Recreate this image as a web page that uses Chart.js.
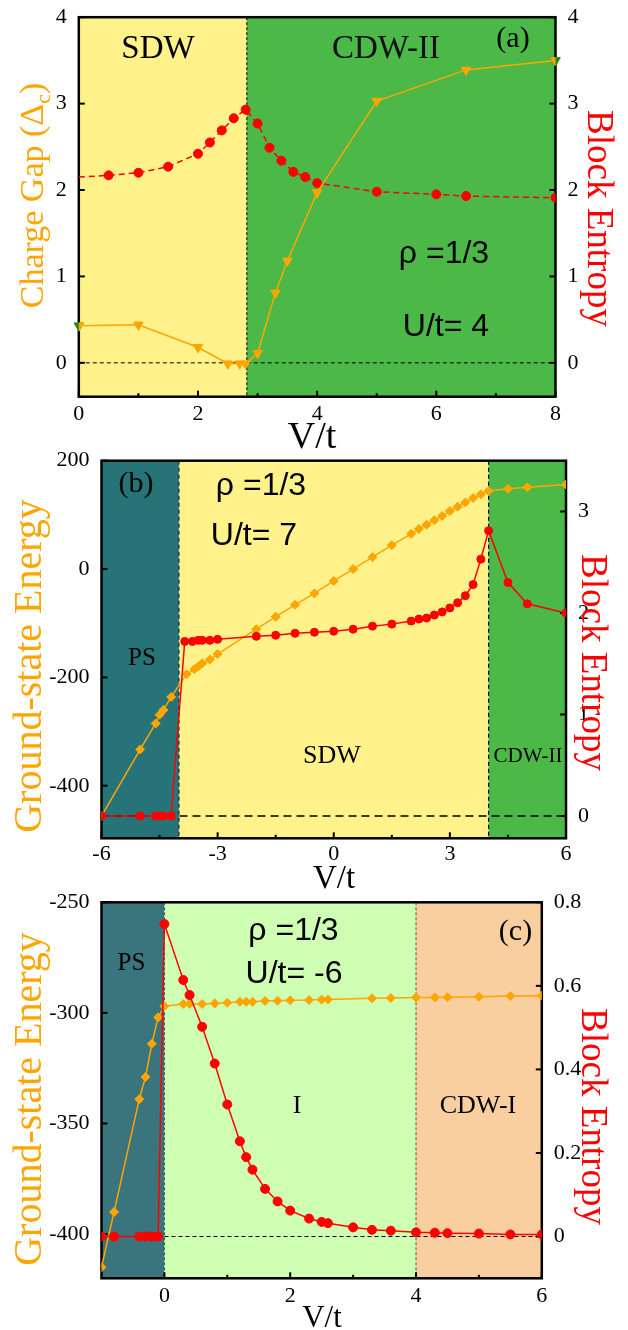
<!DOCTYPE html>
<html>
<head>
<meta charset="utf-8">
<script src="https://cdn.jsdelivr.net/npm/chart.js@4.4.0/dist/chart.umd.min.js"></script>
<style>
  body { margin: 0; background: #fff; }
  #wrap { position: relative; width: 628px; height: 1330px; overflow: hidden; }
  canvas { position: absolute; left: 0; }
</style>
</head>
<body>
<div id="wrap">
  <canvas id="chart-a" width="628" height="455" style="top:0px"></canvas>
  <canvas id="chart-b" width="628" height="465" style="top:430px"></canvas>
  <canvas id="chart-c" width="628" height="450" style="top:880px"></canvas>
</div>
<script>
// ---------- panel (a): charge gap + block entropy, U/t = 4 ----------
const a_gapV  = [0, 1, 2, 2.5, 2.7, 2.8, 3, 3.3, 3.5, 4, 5, 6.5, 8];
const a_gap   = [0.43, 0.44, 0.18, -0.01, -0.01, -0.01, 0.11, 0.81, 1.18, 1.97, 3.03, 3.39, 3.50];
const a_edgeV = [0, 8];
const a_edge  = [0.43, 3.50];
const a_entV  = [0, 0.5, 1, 1.5, 2, 2.2, 2.4, 2.6, 2.8, 3, 3.2, 3.4, 3.6, 3.8, 4, 5, 6, 6.5, 8];
const a_ent   = [2.15, 2.17, 2.20, 2.27, 2.42, 2.55, 2.69, 2.83, 2.93, 2.77, 2.49, 2.34, 2.21, 2.15, 2.08, 1.98, 1.95, 1.93, 1.91];
const a_xTicks  = [0, 2, 4, 6, 8];
const a_xLabels = ['0', '2', '4', '6', '8'];
const a_xMinor  = [1, 3, 5, 7];
const a_yTicks  = [0, 1, 2, 3, 4];
const a_yLabels = ['0', '1', '2', '3', '4'];
const a_y2Ticks  = [0, 1, 2, 3, 4];
const a_y2Labels = ['0', '1', '2', '3', '4'];
const a_phaseEdges = [0, 2.82, 8];

// ---------- panel (b): ground-state energy + block entropy, U/t = 7 ----------
const b_enV = [-6, -5, -4.6, -4.5, -4.4, -4.2, -3.8, -3.6, -3.5, -3.4, -3.2, -3.0, -2, -1.5, -1, -0.5, 0, 0.5, 1, 1.5, 2, 2.2, 2.4, 2.6, 2.8, 3.0, 3.2, 3.4, 3.6, 3.8, 4, 4.5, 5, 6];
const b_en  = [-456, -333, -285, -269, -260, -236, -194, -185, -180, -174, -167, -157, -111, -88, -66, -45, -22, 0, 22, 44, 65, 74, 82, 90, 98, 107, 115, 123, 131, 138, 144, 148, 151, 156];
const b_entV = [-6, -5, -4.6, -4.5, -4.4, -4.2, -3.85, -3.65, -3.5, -3.4, -3.2, -3.0, -2, -1.5, -1, -0.5, 0, 0.5, 1, 1.5, 2, 2.2, 2.4, 2.6, 2.8, 3.0, 3.2, 3.4, 3.6, 3.8, 4.0, 4.5, 5, 6];
const b_ent  = [0, 0, 0, 0, 0, 0, 1.72, 1.72, 1.73, 1.73, 1.73, 1.74, 1.77, 1.78, 1.80, 1.81, 1.82, 1.84, 1.87, 1.89, 1.92, 1.94, 1.95, 1.98, 2.01, 2.05, 2.10, 2.17, 2.28, 2.53, 2.81, 2.30, 2.09, 2.00];
const b_xTicks  = [-6, -3, 0, 3, 6];
const b_xLabels = ['-6', '-3', '0', '3', '6'];
const b_xMinor  = [-4.5, -1.5, 1.5, 4.5];
const b_yTicks  = [-400, -200, 0, 200];
const b_yLabels = ['-400', '-200', '0', '200'];
const b_y2Ticks  = [0, 1, 2, 3];
const b_y2Labels = ['0', '1', '2', '3'];
const b_phaseEdges = [-6, -4, 4, 6];

// ---------- panel (c): ground-state energy + block entropy, U/t = -6 ----------
const c_enV = [-1, -0.8, -0.4, -0.3, -0.2, -0.1, 0, 0.3, 0.4, 0.6, 0.8, 1, 1.2, 1.3, 1.4, 1.6, 1.8, 2, 2.3, 2.5, 2.6, 3.3, 3.6, 4, 4.3, 4.5, 5, 5.5, 6];
const c_en  = [-415, -390, -339, -329, -314, -302, -297, -296, -296, -296, -295.7, -295.4, -295, -295, -295, -294.6, -294.5, -294.3, -294.2, -294, -294, -293.4, -293.3, -293, -293, -292.9, -292.7, -292.4, -292.2];
const c_entV = [-1, -0.8, -0.4, -0.3, -0.2, -0.1, 0, 0.3, 0.4, 0.6, 0.8, 1, 1.2, 1.3, 1.4, 1.6, 1.8, 2, 2.3, 2.5, 2.6, 3, 3.3, 3.6, 4, 4.3, 4.5, 5, 5.5, 6];
const c_ent  = [0, 0, 0, 0, 0, 0, 0.748, 0.614, 0.578, 0.502, 0.414, 0.316, 0.228, 0.190, 0.160, 0.114, 0.084, 0.062, 0.043, 0.035, 0.032, 0.022, 0.016, 0.014, 0.010, 0.009, 0.008, 0.007, 0.005, 0.005];
const c_xTicks  = [0, 2, 4, 6];
const c_xLabels = ['0', '2', '4', '6'];
const c_xMinor  = [1, 3, 5];
const c_yTicks  = [-400, -350, -300, -250];
const c_yLabels = ['-400', '-350', '-300', '-250'];
const c_y2Ticks  = [0, 0.2, 0.4, 0.6, 0.8];
const c_y2Labels = ['0', '0.2', '0.4', '0.6', '0.8'];
const c_phaseEdges = [-1, 0, 4, 6];

const SERIF = '"Liberation Serif", "Times New Roman", serif';
const SANS = '"Liberation Sans", Arial, sans-serif';
const ORANGE = '#ffa500';
const RED = '#ff0000';

function pts(xs, ys) {
    return xs.map((x, i) => ({ x: x, y: ys[i] }));
}

// draw a (possibly rotated) run of text pieces centred on x
function drawParts(ctx, parts, x, y, rot, color) {
    ctx.save();
    ctx.translate(x, y);
    ctx.rotate(rot || 0);
    ctx.fillStyle = color;
    ctx.textBaseline = 'alphabetic';
    ctx.textAlign = 'left';
    let total = 0;
    parts.forEach(p => { ctx.font = p.font; total += ctx.measureText(p.s).width; });
    let cx = -total / 2;
    parts.forEach(p => {
        ctx.font = p.font;
        ctx.fillText(p.s, cx, p.dy || 0);
        cx += ctx.measureText(p.s).width;
    });
    ctx.restore();
}

function axisOpts(position, min, max, ticks, labels, size, pad) {
    return {
        type: 'linear',
        position: position,
        min: min,
        max: max,
        grid: { display: false },
        border: { display: false },
        afterBuildTicks: s => { s.ticks = ticks.map(v => ({ value: v })); },
        afterFit: s => {
            if (s.isHorizontal()) s.height = size; else s.width = size;
        },
        ticks: {
            autoSkip: false,
            maxRotation: 0,
            padding: pad,
            color: '#000',
            font: { family: SERIF, size: 22 },
            callback: (v, i) => labels[i]
        }
    };
}

// backgrounds, dashed guides, frame, inward ticks and all the texts
function decorPlugin(p) {
    return {
        id: 'decor_' + p.key,
        beforeDatasetsDraw(chart) {
            const { ctx, chartArea: a, scales } = chart;
            const x = scales.x;
            ctx.save();
            ctx.beginPath();
            ctx.rect(a.left, a.top, a.right - a.left, a.bottom - a.top);
            ctx.clip();
            for (let i = 0; i < p.phaseColors.length; i++) {
                const x0 = x.getPixelForValue(p.phaseEdges[i]);
                const x1 = x.getPixelForValue(p.phaseEdges[i + 1]);
                ctx.fillStyle = p.phaseColors[i];
                ctx.fillRect(x0, a.top, x1 - x0, a.bottom - a.top);
            }
            p.phaseEdges.slice(1, -1).forEach((v, i) => {
                const st = p.bounds[i];
                const px = x.getPixelForValue(v);
                ctx.strokeStyle = st.color;
                ctx.lineWidth = st.width;
                ctx.setLineDash(st.dash);
                ctx.beginPath();
                ctx.moveTo(px, a.top);
                ctx.lineTo(px, a.bottom);
                ctx.stroke();
            });
            // zero of the block entropy
            const py = scales.y2.getPixelForValue(0);
            ctx.strokeStyle = '#000';
            ctx.lineWidth = p.zero.width;
            ctx.setLineDash(p.zero.dash);
            ctx.beginPath();
            ctx.moveTo(a.left, py);
            ctx.lineTo(a.right, py);
            ctx.stroke();
            ctx.restore();

            ctx.save();
            ctx.strokeStyle = '#000';
            ctx.lineWidth = 2.5;
            ctx.strokeRect(a.left, a.top, a.right - a.left, a.bottom - a.top);
            ctx.lineWidth = 2;
            const tick = (x0, y0, x1, y1) => {
                ctx.beginPath(); ctx.moveTo(x0, y0); ctx.lineTo(x1, y1); ctx.stroke();
            };
            p.xTicks.forEach(v => { const t = x.getPixelForValue(v); tick(t, a.bottom, t, a.bottom - 6); });
            p.xMinor.forEach(v => { const t = x.getPixelForValue(v); tick(t, a.bottom, t, a.bottom - 3.5); });
            p.yTicks.forEach(v => { const t = scales.y.getPixelForValue(v); tick(a.left, t, a.left + 6, t); });
            p.y2Ticks.forEach(v => { const t = scales.y2.getPixelForValue(v); tick(a.right, t, a.right - 6, t); });
            ctx.restore();
        },
        afterDraw(chart) {
            const ctx = chart.ctx;
            p.texts.forEach(t => {
                drawParts(ctx, t.parts, t.x, t.y - p.top, t.rot, t.color);
            });
        }
    };
}

function makePanel(p) {
    const canvas = document.getElementById(p.canvasId);
    const H = canvas.height;
    return new Chart(canvas, {
        type: 'line',
        data: { datasets: p.datasets },
        options: {
            responsive: false,
            animation: false,
            layout: { padding: { top: p.area.top - p.top, left: 0, right: 0, bottom: 0 } },
            elements: { line: { tension: 0 } },
            plugins: { legend: { display: false }, tooltip: { enabled: false } },
            scales: {
                x: axisOpts('bottom', p.xRange[0], p.xRange[1], p.xTicks, p.xLabels, H - (p.area.bottom - p.top), p.xPad),
                y: axisOpts('left', p.yRange[0], p.yRange[1], p.yTicks, p.yLabels, p.area.left, 4),
                y2: axisOpts('right', p.y2Range[0], p.y2Range[1], p.y2Ticks, p.y2Labels, 628 - p.area.right, 4)
            }
        },
        plugins: [decorPlugin(p)]
    });
}

const txt = (s, size, fam) => [{ s: s, font: size + 'px ' + (fam || SERIF) }];
const UP = -Math.PI / 2, DOWN = Math.PI / 2;

// ---------------- (a) ----------------
makePanel({
    key: 'a', canvasId: 'chart-a', top: 0,
    area: { left: 78.8, right: 555.5, top: 15.7, bottom: 396.7 },
    xRange: [0, 8], yRange: [-0.392, 4], y2Range: [-0.392, 4], xPad: -4,
    xTicks: a_xTicks, xLabels: a_xLabels, xMinor: a_xMinor,
    yTicks: a_yTicks, yLabels: a_yLabels, y2Ticks: a_y2Ticks, y2Labels: a_y2Labels,
    phaseEdges: a_phaseEdges,
    phaseColors: ['#fff28a', '#4cb848'],
    bounds: [{ color: '#000', width: 1, dash: [3, 2] }],
    zero: { width: 1, dash: [4, 3] },
    datasets: [
        {
            data: pts(a_gapV, a_gap), yAxisID: 'y', clip: 0,
            borderColor: ORANGE, backgroundColor: ORANGE, borderWidth: 1.5,
            pointStyle: 'triangle', rotation: 180, pointRadius: 5.5, pointBorderWidth: 1
        },
        {
            data: pts(a_entV, a_ent), yAxisID: 'y2',
            borderColor: RED, backgroundColor: RED, borderWidth: 1.5, borderDash: [6, 4],
            pointStyle: 'circle', pointBorderWidth: 1,
            pointRadius: c => (c.dataIndex === 0 ? 0 : 4.5)
        },
        {
            data: pts(a_edgeV, a_edge), yAxisID: 'y', clip: false, showLine: false,
            borderColor: '#1c8a1c', backgroundColor: '#1c8a1c',
            pointStyle: 'triangle', rotation: 180, pointRadius: 5.5
        }
    ],
    texts: [
        { parts: txt('SDW', 33), x: 158, y: 58, color: '#000' },
        { parts: txt('CDW-II', 33), x: 386, y: 58, color: '#111' },
        { parts: txt('(a)', 30), x: 513, y: 47, color: '#000' },
        { parts: txt('\u03c1 =1/3', 32, SANS), x: 444, y: 263, color: '#000' },
        { parts: txt('U/t= 4', 32, SANS), x: 446, y: 336, color: '#000' },
        { parts: txt('V/t', 38), x: 312, y: 448, color: '#000' },
        {
            parts: [
                { s: 'Charge Gap (\u0394', font: '34px ' + SERIF },
                { s: 'c', font: '22px ' + SERIF, dy: 7 },
                { s: ')', font: '34px ' + SERIF }
            ],
            x: 43, y: 195.5, rot: UP, color: ORANGE
        },
        { parts: txt('Block Entropy', 37), x: 588, y: 218.5, rot: DOWN, color: RED }
    ]
});

// ---------------- (b) ----------------
makePanel({
    key: 'b', canvasId: 'chart-b', top: 430,
    area: { left: 101.5, right: 566, top: 460.7, bottom: 838.3 },
    xRange: [-6, 6], yRange: [-497, 200], y2Range: [-0.22, 3.5], xPad: -5,
    xTicks: b_xTicks, xLabels: b_xLabels, xMinor: b_xMinor,
    yTicks: b_yTicks, yLabels: b_yLabels, y2Ticks: b_y2Ticks, y2Labels: b_y2Labels,
    phaseEdges: b_phaseEdges,
    phaseColors: ['#267378', '#fff28a', '#4cb848'],
    bounds: [{ color: '#123', width: 1.2, dash: [4, 3] }, { color: '#000', width: 1.2, dash: [4, 3] }],
    zero: { width: 1.5, dash: [8, 5] },
    datasets: [
        {
            data: pts(b_entV, b_ent), yAxisID: 'y2',
            borderColor: RED, backgroundColor: RED, borderWidth: 1.5,
            pointStyle: 'circle', pointRadius: 4, pointBorderWidth: 1
        },
        {
            data: pts(b_enV, b_en), yAxisID: 'y',
            borderColor: ORANGE, backgroundColor: ORANGE, borderWidth: 1.5,
            pointStyle: 'rectRot', pointRadius: 4.5, pointBorderWidth: 1
        }
    ],
    texts: [
        { parts: txt('(b)', 30), x: 136, y: 492, color: '#000' },
        { parts: txt('\u03c1 =1/3', 32, SANS), x: 261, y: 495, color: '#000' },
        { parts: txt('U/t= 7', 32, SANS), x: 254, y: 545, color: '#000' },
        { parts: txt('PS', 25), x: 142, y: 665, color: '#000' },
        { parts: txt('SDW', 26), x: 332, y: 763, color: '#000' },
        { parts: txt('CDW-II', 21), x: 528, y: 762, color: '#000' },
        { parts: txt('V/t', 33), x: 334, y: 888, color: '#000' },
        { parts: txt('Ground-state Energy', 40), x: 41, y: 666, rot: UP, color: ORANGE },
        { parts: txt('Block Entropy', 37), x: 582, y: 662.5, rot: DOWN, color: RED }
    ]
});

// ---------------- (c) ----------------
makePanel({
    key: 'c', canvasId: 'chart-c', top: 880,
    area: { left: 101.5, right: 541.8, top: 902.3, bottom: 1278.3 },
    xRange: [-1, 6], yRange: [-420, -250], y2Range: [-0.1, 0.8], xPad: -3,
    xTicks: c_xTicks, xLabels: c_xLabels, xMinor: c_xMinor,
    yTicks: c_yTicks, yLabels: c_yLabels, y2Ticks: c_y2Ticks, y2Labels: c_y2Labels,
    phaseEdges: c_phaseEdges,
    phaseColors: ['#3a747c', '#cfffb2', '#facfa0'],
    bounds: [{ color: '#2a4e5a', width: 1, dash: [3, 2] }, { color: '#555', width: 1, dash: [3, 2] }],
    zero: { width: 1, dash: [4, 3] },
    datasets: [
        {
            data: pts(c_entV, c_ent), yAxisID: 'y2',
            borderColor: RED, backgroundColor: RED, borderWidth: 1.5,
            pointStyle: 'circle', pointRadius: 4.5, pointBorderWidth: 1
        },
        {
            data: pts(c_enV, c_en), yAxisID: 'y',
            borderColor: ORANGE, backgroundColor: ORANGE, borderWidth: 1.5,
            pointStyle: 'rectRot', pointRadius: 4.5, pointBorderWidth: 1
        }
    ],
    texts: [
        { parts: txt('PS', 25), x: 131.5, y: 970, color: '#000' },
        { parts: txt('\u03c1 =1/3', 32, SANS), x: 293.5, y: 940, color: '#000' },
        { parts: txt('U/t= -6', 32, SANS), x: 294, y: 983, color: '#000' },
        { parts: txt('(c)', 30), x: 515.5, y: 940, color: '#000' },
        { parts: txt('I', 26), x: 297, y: 1113, color: '#000' },
        { parts: txt('CDW-I', 26), x: 478, y: 1113, color: '#000' },
        { parts: txt('V/t', 31), x: 322, y: 1327, color: '#000' },
        { parts: txt('Ground-state Energy', 40), x: 41, y: 1099, rot: UP, color: ORANGE },
        { parts: txt('Block Entropy', 37), x: 582, y: 1116.5, rot: DOWN, color: RED }
    ]
});
</script>
</body>
</html>
